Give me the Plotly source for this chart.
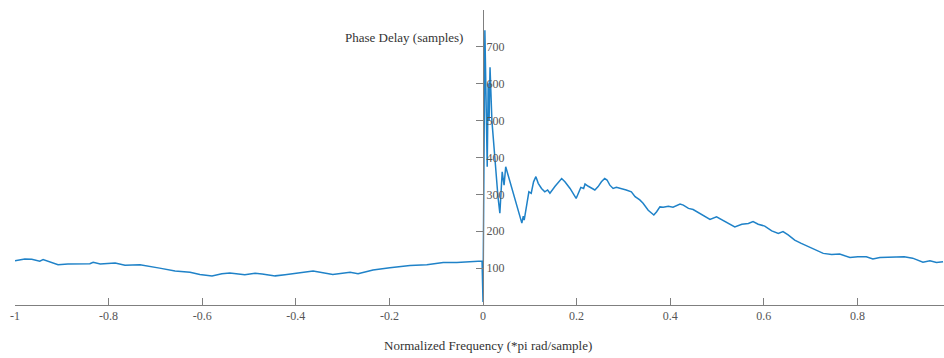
import plotly.graph_objects as go

# Normalized frequency (x pi rad/sample) and measured phase delay (samples)
freq = [
    -1.000, -0.979, -0.964, -0.947, -0.940, -0.925, -0.908, -0.887, -0.861, -0.840,
    -0.833, -0.818, -0.786, -0.765, -0.733, -0.712, -0.691, -0.658, -0.626, -0.605,
    -0.579, -0.558, -0.541, -0.509, -0.487, -0.472, -0.444, -0.423, -0.391, -0.363,
    -0.321, -0.284, -0.267, -0.235, -0.199, -0.156, -0.120, -0.085, -0.056, -0.034,
    -0.002, 0.000, 0.004, 0.009, 0.011, 0.013, 0.015, 0.019, 0.026, 0.032,
    0.036, 0.041, 0.045, 0.0485, 0.083, 0.086, 0.088, 0.095, 0.098, 0.103,
    0.108, 0.113, 0.118, 0.125, 0.132, 0.138, 0.143, 0.154, 0.161, 0.168,
    0.175, 0.186, 0.199, 0.204, 0.209, 0.215, 0.218, 0.225, 0.232, 0.239,
    0.246, 0.253, 0.260, 0.265, 0.271, 0.278, 0.285, 0.296, 0.306, 0.317,
    0.325, 0.335, 0.342, 0.353, 0.365, 0.371, 0.378, 0.385, 0.396, 0.406,
    0.421, 0.428, 0.439, 0.449, 0.457, 0.471, 0.485, 0.499, 0.513, 0.528,
    0.538, 0.553, 0.567, 0.577, 0.588, 0.602, 0.617, 0.631, 0.641, 0.652,
    0.666, 0.680, 0.699, 0.713, 0.727, 0.745, 0.762, 0.784, 0.801, 0.819,
    0.833, 0.848, 0.876, 0.900, 0.918, 0.940, 0.955, 0.969, 0.983,
]
delay = [
    120, 125, 124, 119, 123, 117, 109, 111, 112, 112,
    116, 111, 114, 108, 109, 105, 100, 92, 89, 83,
    79, 85, 87, 82, 86, 84, 79, 82, 87, 92,
    83, 89, 85, 95, 101, 107, 109, 115, 115, 117,
    119, 8, 745, 375, 600, 500, 645, 500, 385, 293,
    249, 361, 325, 375, 222, 241, 230, 289, 307, 303,
    334, 348, 330, 316, 307, 312, 303, 322, 334, 343,
    334, 316, 289, 303, 319, 316, 328, 322, 316, 312,
    321, 334, 343, 339, 325, 316, 319, 316, 312, 307,
    294, 285, 276, 257, 244, 253, 266, 265, 268, 265,
    274, 271, 262, 259, 253, 241, 232, 239, 230, 219,
    212, 219, 221, 226, 219, 214, 201, 194, 199, 190,
    176, 167, 156, 147, 140, 137, 138, 129, 131, 131,
    125, 129, 129, 131, 127, 116, 120, 115, 117,
]

x_ticks = [-1, -0.8, -0.6, -0.4, -0.2, 0, 0.2, 0.4, 0.6, 0.8]
x_tick_text = ["-1", "-0.8", "-0.6", "-0.4", "-0.2", "0", "0.2", "0.4", "0.6", "0.8"]
y_ticks = [0, 100, 200, 300, 400, 500, 600, 700, 800]
y_tick_text = ["", "100", "200", "300", "400", "500", "600", "700", ""]

X_MIN, X_MAX = -1.0, 0.985
FONT = "Liberation Serif, Times New Roman, serif"
AXIS_GREY = "#7f7f7f"
TICK_TEXT = "#555555"

fig = go.Figure()
fig.add_trace(go.Scatter(
    x=freq, y=delay, mode="lines",
    line=dict(color="#1f82c8", width=1.5),
    hoverinfo="skip", showlegend=False,
))

fig.update_layout(
    width=944, height=358,
    margin=dict(l=15, r=0, t=10, b=53),
    paper_bgcolor="white", plot_bgcolor="white",
    font=dict(family=FONT, size=12, color=TICK_TEXT),
    xaxis=dict(
        range=[X_MIN, X_MAX], tickvals=x_ticks, ticktext=x_tick_text,
        ticks="inside", ticklen=7, tickcolor=AXIS_GREY, tickwidth=1,
        showline=True, linecolor=AXIS_GREY, linewidth=1,
        showgrid=False, zeroline=False,
        tickfont=dict(family=FONT, size=12, color=TICK_TEXT),
    ),
    # vertical axis sits at x = 0: tick marks point left, labels to the right
    yaxis=dict(
        range=[0, 800], tickvals=y_ticks, ticktext=y_tick_text,
        anchor="free", position=(0 - X_MIN) / (X_MAX - X_MIN), side="right",
        ticks="inside", ticklen=7, tickcolor=AXIS_GREY, tickwidth=1,
        showline=True, linecolor=AXIS_GREY, linewidth=1,
        showgrid=False, zeroline=False,
        tickfont=dict(family=FONT, size=12, color=TICK_TEXT),
    ),
    annotations=[
        dict(text="Phase Delay (samples)", xref="paper", yref="paper",
             x=(465 - 15) / 929, y=(305 - 38) / 295, xanchor="right", yanchor="middle",
             showarrow=False, font=dict(family=FONT, size=13, color="#333333")),
        dict(text="Normalized Frequency (*pi rad/sample)", xref="paper", yref="paper",
             x=(488 - 15) / 929, y=(305 - 345) / 295, xanchor="center", yanchor="middle",
             showarrow=False, font=dict(family=FONT, size=13, color="#333333")),
    ],
)

fig.write_html("out.html")
